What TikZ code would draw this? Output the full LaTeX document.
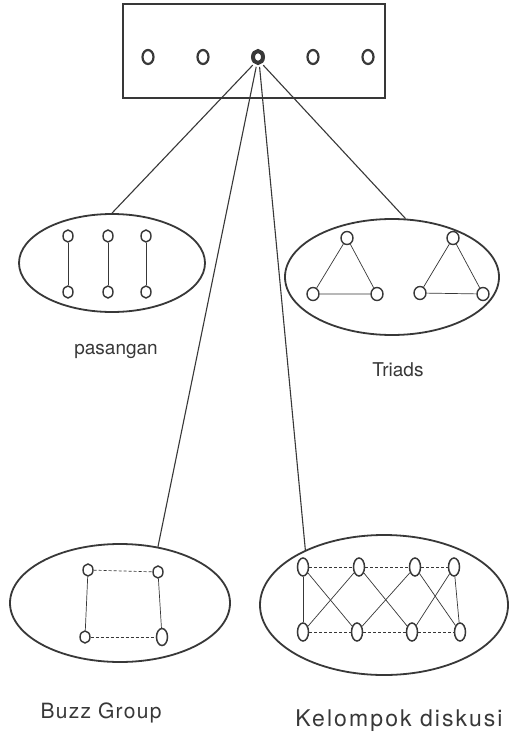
\documentclass[tikz,border=0pt]{standalone}
\usepackage{fontspec}
\setmainfont{TeX Gyre Heros}
\usetikzlibrary{shapes.geometric}
\definecolor{ink}{HTML}{383838}
\begin{document}
\begin{tikzpicture}[x=1pt,y=-1pt,color=ink,
  topo/.style={ellipse,draw,line width=2.2pt,minimum width=11pt,minimum height=14pt,inner sep=0pt},
  bigo/.style={topo,line width=4pt,minimum width=10pt,minimum height=12pt},
  grp/.style={ellipse,draw,line width=1.8pt,inner sep=0pt},
  so/.style={ellipse,draw,line width=1.4pt,minimum width=10pt,minimum height=12pt,inner sep=0pt},
  tallo/.style={so,line width=1.5pt,minimum width=11pt,minimum height=18pt},
  link/.style={line width=0.7pt},
  dlink/.style={link,dash pattern=on 3pt off 2pt},
  spoke/.style={line width=1.1pt,shorten <=2pt},
  lbl/.style={font=\fontsize{19}{22}\selectfont,anchor=base,inner sep=0pt}]
\useasboundingbox (0,0) rectangle (517,733);
\fill[white] (0,0) rectangle (517,733);

% top box
\node[draw,line width=2pt,minimum width=262pt,minimum height=94pt,inner sep=0pt] (box) at (254,51) {};
\node[topo] (t1) at (148,57) {};
\node[topo] (t2) at (203,57) {};
\node[bigo] (c) at (258,57) {};
\node[topo] (t4) at (313,57) {};
\node[topo] (t5) at (368,57) {};

% group ellipses
\node[grp,minimum width=186pt,minimum height=98pt] (pas) at (112,263) {};
\node[grp,minimum width=214pt,minimum height=116pt] (tri) at (392,277) {};
\node[grp,minimum width=220pt,minimum height=118pt] (buz) at (120,603) {};
\node[grp,minimum width=248pt,minimum height=140pt] (kel) at (384,605) {};

% spokes
\draw[spoke] (c.240) -- (pas.90);
\draw[spoke] (c.260) -- (buz.56);
\draw[spoke] (c.280) -- (kel.145);
\draw[spoke] (c.300) -- (tri.77);

% pasangan
\node[so] (p1a) at (68,236) {};
\node[so] (p2a) at (108,236) {};
\node[so] (p3a) at (146,236) {};
\node[so] (p1b) at (68,292) {};
\node[so] (p2b) at (108,292) {};
\node[so] (p3b) at (146,292) {};
\draw[link] (p1a) -- (p1b);
\draw[link] (p2a) -- (p2b);
\draw[link] (p3a) -- (p3b);
\node[lbl] (lpas) at (116,354) {pasangan};

% triads
\node[so,minimum width=12pt,minimum height=13pt] (a1) at (347,238) {};
\node[so,minimum width=12pt,minimum height=13pt] (a2) at (313,294) {};
\node[so,minimum width=12pt,minimum height=13pt] (a3) at (377,294) {};
\node[so,minimum width=12pt,minimum height=13pt] (b1) at (453,238) {};
\node[so,minimum width=12pt,minimum height=13pt] (b2) at (420,293) {};
\node[so,minimum width=12pt,minimum height=13pt] (b3) at (483,294) {};
\draw[link] (a1) -- (a2) -- (a3) -- (a1);
\draw[link] (b1) -- (b2) -- (b3) -- (b1);
\node[lbl] (ltri) at (398,376) {Triads};

% buzz group
\node[so] (q1) at (88,570) {};
\node[so] (q2) at (158,572) {};
\node[so] (q3) at (85,637) {};
\node[tallo,minimum height=17pt] (q4) at (162,637) {};
\draw[link] (q1) -- (q3);
\draw[link] (q2) -- (q4);
\draw[dlink] (q1) -- (q2);
\draw[dlink] (q3) -- (q4);
\node[lbl,font=\fontsize{21}{24}\selectfont] (lbuz) at (101,718) {\addfontfeatures{LetterSpace=6}Buzz Group};

% kelompok diskusi
\node[tallo] (k1) at (303,567) {};
\node[tallo] (k2) at (359,567) {};
\node[tallo] (k3) at (415,567) {};
\node[tallo] (k4) at (454,567) {};
\node[tallo] (m1) at (303,632) {};
\node[tallo] (m2) at (357,632) {};
\node[tallo] (m3) at (412,632) {};
\node[tallo] (m4) at (460,632) {};
\draw[link] (k1) -- (m1);
\draw[link] (k4) -- (m4);
\draw[link] (k1) -- (m2);
\draw[link] (k2) -- (m1);
\draw[link] (k2) -- (m3);
\draw[link] (k3) -- (m2);
\draw[link] (k3) -- (m4);
\draw[link] (k4) -- (m3);
\draw[dlink] (k1) -- (k2);
\draw[dlink] (k2) -- (k3);
\draw[dlink] (k3) -- (k4);
\draw[dlink] (m1) -- (m2);
\draw[dlink] (m2) -- (m3);
\draw[dlink] (m3) -- (m4);
\node[lbl,font=\fontsize{23}{26}\selectfont] (lkel) at (399,726) {\addfontfeatures{LetterSpace=9}Kelompok diskusi};
\end{tikzpicture}
\end{document}
